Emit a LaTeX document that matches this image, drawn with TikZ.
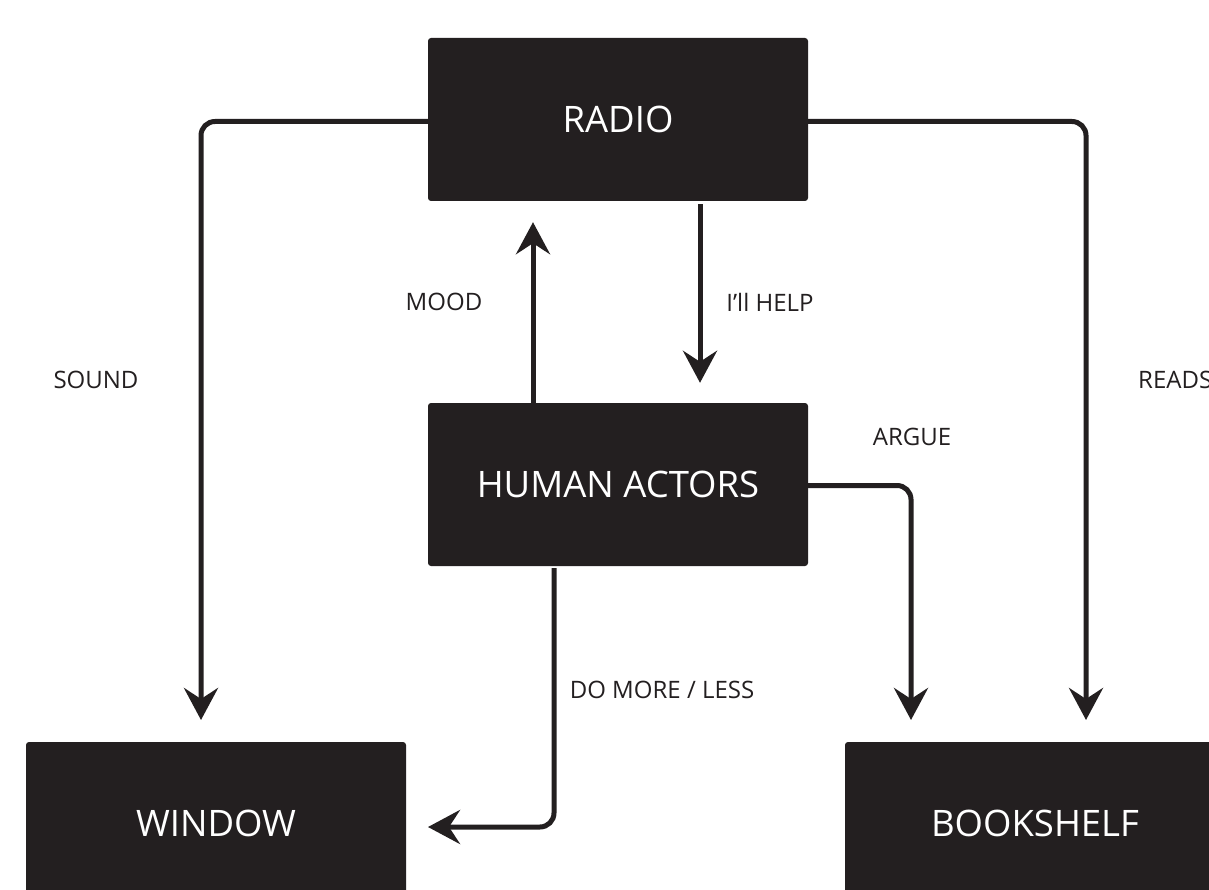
\documentclass[tikz,border=0pt]{standalone}
\usepackage{fontspec}
\setmainfont{Open Sans}
\usetikzlibrary{arrows.meta,calc}
\definecolor{boxc}{HTML}{231F20}
\tikzset{
  bigbox/.style={fill=boxc, draw=none, rounded corners=3pt, minimum width=380pt, minimum height=163pt, inner sep=0pt, text=white, font=\fontsize{36.5}{42}\selectfont},
  conn/.style={draw=boxc, line width=5pt, rounded corners=14pt, -{Stealth[length=32pt,width=34pt,inset=11pt]}},
  lbl/.style={text=boxc, font=\fontsize{24}{28}\selectfont, inner sep=0pt}
}
\begin{document}
\begin{tikzpicture}[x=1pt,y=1pt]
\useasboundingbox (0,0) rectangle (1209,-890);
\clip (0,0) rectangle (1209,-890);
\fill[white] (0,0) rectangle (1209,-890);
\node[bigbox] (radio) at (618,-119.5) {RADIO};
\node[bigbox] (human) at (618,-484.5) {HUMAN ACTORS};
\node[bigbox] (window) at (216,-823.5) {WINDOW};
\node[bigbox] (book) at (1035,-823.5) {BOOKSHELF};
\coordinate (sndtip) at (201,-720);
\coordinate (rdstip) at (1086,-720);
\coordinate (argtip) at (911,-720);
\coordinate (dmtip) at (428,-827);
\draw[conn] ([yshift=-2pt]radio.west) -| (sndtip);
\draw[conn] ([yshift=-2pt]radio.east) -| (rdstip);
\draw[conn] ([xshift=-85pt]human.north) -- ([xshift=-85pt,yshift=-21pt]radio.south);
\draw[conn] ([xshift=82pt,yshift=-3pt]radio.south) -- ([xshift=82pt,yshift=20pt]human.north);
\draw[conn] ([yshift=-1pt]human.east) -| (argtip);
\draw[conn] ([xshift=-64pt,yshift=-2pt]human.south) |- (dmtip);
\node[lbl] (sound) at (96,-380) {SOUND};
\node[lbl] (mood) at (444,-302) {MOOD};
\node[lbl] (help) at (770,-302) {I’ll HELP};
\node[lbl, anchor=west] (reads) at (1138,-380) {READS};
\node[lbl] (argue) at (912,-437) {ARGUE};
\node[lbl] (domore) at (662,-690) {DO MORE / LESS};
\end{tikzpicture}
\end{document}
